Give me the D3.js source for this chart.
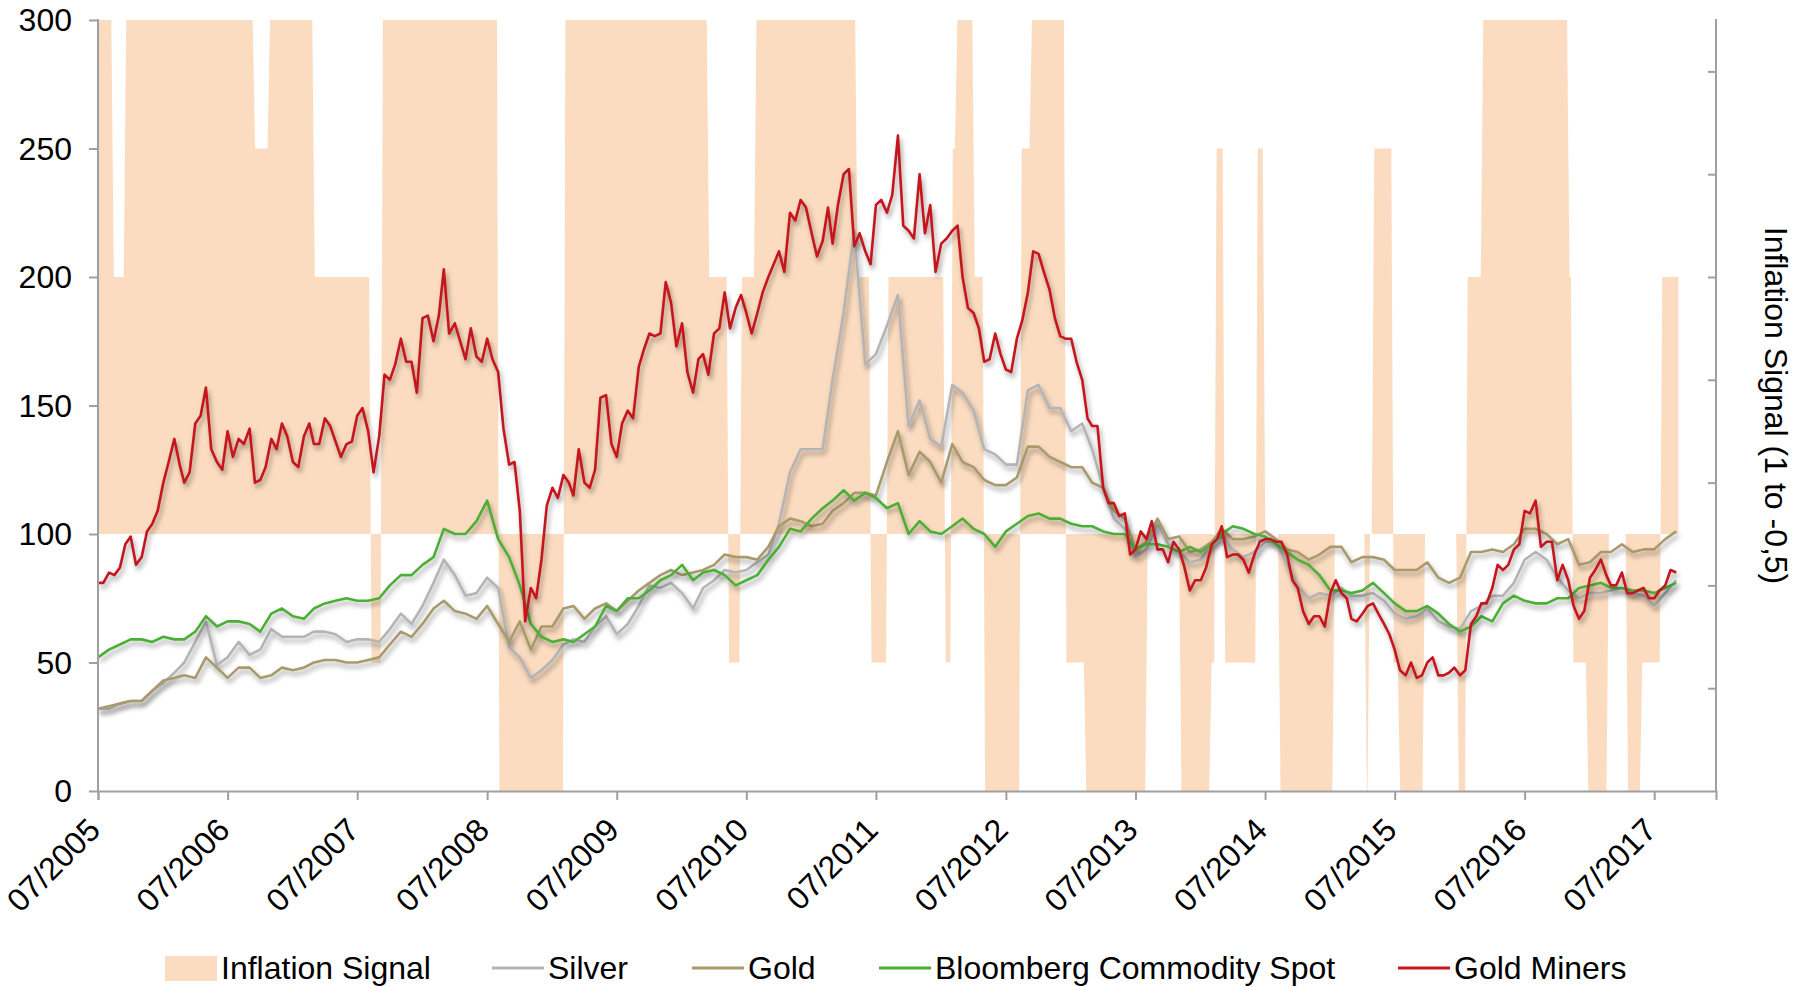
<!DOCTYPE html>
<html>
<head>
<meta charset="utf-8">
<script src="https://cdn.jsdelivr.net/npm/d3@7/dist/d3.min.js"></script>
<style>
  html, body { margin: 0; padding: 0; background: #fff; }
  svg { display: block; }
  text { font-family: "Liberation Sans", Arial, Helvetica, sans-serif; fill: #000; }
</style>
</head>
<body>
<svg id="chart" width="1808" height="987"></svg>
<script>
// ---------------- DATA ----------------
const firstMonth = "2005-07-01";
const lastMonth = "2017-09-01";

// Gold Miners, twice a month (1st and 16th), 07/2005 .. 09/2017
const goldMiners = [
  81, 81, 85, 84, 87, 96, 99, 88, 91, 101, 104, 109, 120, 128, 137, 127, 120, 124, 143, 146, 157, 133, 128, 125,
  140, 130, 137, 135, 141, 120, 121, 126, 137, 133, 143, 138, 128, 126, 138, 143, 135, 135, 145, 142, 136, 130, 135, 136,
  146, 149, 140, 124, 138, 162, 160, 166, 176, 167, 167, 155, 184, 185, 175, 185, 203, 178, 182, 175, 168, 180, 169, 167,
  176, 168, 163, 141, 127, 128, 109, 66, 79, 75, 90, 111, 118, 114, 123, 120, 115, 133, 120, 118, 125, 153, 154, 135,
  130, 143, 148, 145, 165, 172, 178, 177, 178, 198, 190, 173, 182, 163, 155, 168, 170, 162, 178, 180, 194, 180, 188, 193,
  186, 178, 186, 194, 200, 205, 210, 202, 225, 222, 230, 227, 217, 208, 214, 227, 213, 228, 240, 242, 212, 217, 210, 205,
  228, 230, 225, 232, 255, 220, 218, 215, 240, 217, 228, 202, 213, 215, 218, 220, 200, 188, 186, 180, 167, 168, 178, 170,
  164, 163, 176, 183, 194, 210, 209, 202, 195, 184, 177, 176, 176, 167, 160, 145, 142, 142, 118, 112, 112, 107, 108, 92,
  94, 101, 98, 105, 94, 94, 89, 97, 94, 87, 78, 82, 82, 87, 96, 98, 103, 91, 92, 92, 90, 85, 92, 97,
  98, 98, 97, 97, 92, 82, 79, 70, 65, 68, 68, 64, 77, 82, 77, 75, 67, 66, 69, 72, 73, 69, 65, 61,
  55, 47, 45, 50, 44, 45, 50, 52, 45, 45, 46, 48, 45, 47, 65, 68, 73, 73, 79, 88, 86, 88, 94, 96,
  109, 108, 113, 95, 97, 97, 82, 88, 82, 72, 67, 70, 83, 86, 90, 84, 80, 80, 85, 77, 77, 78, 79, 75,
  75, 78, 80, 86, 85
];

// Monthly series, 07/2005 .. 09/2017
const silver = [
  32, 32, 34, 35, 35, 39, 42, 46, 50, 58, 66, 49, 52, 58, 53, 55, 63, 60, 60, 60, 62, 62, 61, 58, 59,
  59, 58, 63, 69, 65, 72, 81, 90, 84, 76, 77, 83, 79, 56, 52, 44, 47, 51, 57, 59, 58, 64, 68, 61,
  65, 72, 80, 79, 81, 77, 71, 79, 82, 86, 85, 86, 89, 92, 104, 124, 133, 133, 133, 160, 186, 218, 166, 170,
  181, 193, 142, 152, 137, 134, 158, 155, 148, 133, 131, 127, 127, 156, 158, 149, 149, 140, 143, 133, 118, 106, 102, 91, 94,
  104, 96, 93, 89, 90, 97, 99, 94, 91, 93, 97, 97, 88, 80, 75, 77, 76, 79, 76, 76, 77, 74, 69, 67,
  68, 71, 66, 64, 63, 70, 72, 76, 76, 81, 90, 93, 90, 83, 78, 75, 77, 77, 78, 79, 77, 76, 72, 77, 82
];

const gold = [
  32, 33, 34, 35, 35, 39, 43, 44, 45, 44, 52, 48, 44, 48, 48, 44, 45, 48, 47, 48, 50, 51, 51, 50, 50,
  51, 52, 57, 62, 60, 65, 71, 74, 70, 69, 67, 72, 65, 58, 66, 55, 64, 64, 71, 72, 67, 71, 73, 70,
  74, 78, 81, 84, 86, 84, 85, 86, 88, 92, 91, 91, 90, 95, 103, 106, 105, 103, 104, 109, 112, 116, 116, 115,
  128, 140, 123, 132, 128, 120, 135, 128, 126, 121, 119, 119, 122, 134, 134, 130, 128, 126, 126, 120, 118, 109, 106, 94, 97,
  106, 98, 99, 93, 94, 97, 102, 98, 98, 99, 101, 98, 94, 93, 90, 92, 95, 95, 89, 91, 91, 90, 86, 86,
  86, 89, 83, 81, 83, 93, 93, 94, 93, 96, 102, 102, 100, 96, 98, 88, 89, 93, 93, 96, 93, 94, 94, 98, 101
];

const bloombergSpot = [
  52, 55, 57, 59, 59, 58, 60, 59, 59, 62, 68, 64, 66, 66, 65, 62, 69, 71, 68, 67, 71, 73, 74, 75, 74,
  74, 75, 80, 84, 84, 88, 91, 102, 100, 100, 105, 113, 98, 91, 80, 65, 60, 58, 59, 58, 61, 64, 72, 70,
  75, 75, 78, 82, 84, 88, 82, 85, 86, 84, 80, 82, 84, 90, 95, 102, 101, 106, 110, 113, 117, 113, 116, 114,
  110, 112, 100, 105, 101, 100, 103, 106, 102, 100, 95, 101, 104, 107, 108, 106, 106, 104, 103, 103, 101, 100, 100, 94, 96,
  96, 95, 93, 95, 93, 96, 100, 103, 102, 100, 99, 96, 93, 90, 88, 84, 78, 78, 77, 78, 81, 77, 73, 70,
  70, 72, 69, 65, 62, 64, 68, 66, 73, 76, 74, 73, 73, 75, 75, 79, 80, 81, 79, 79, 78, 78, 77, 79, 81
];

// Inflation signal: date it changes to a value (1 to -0.5)
const signalDates = ["2005-07-01","2005-08-11","2005-09-15","2006-09-13","2006-10-25","2007-02-28","2007-08-07","2007-09-08",
  "2008-08-01","2009-02-03","2010-03-15","2010-05-10","2010-06-15","2010-07-26","2011-05-07","2011-06-15","2011-08-02",
  "2012-01-10","2012-01-30","2012-02-12","2012-04-01","2012-04-30","2012-08-11","2012-09-09","2012-12-15","2013-02-09",
  "2013-08-01","2013-11-04","2014-01-28","2014-02-11","2014-03-07","2014-06-07","2014-06-28","2014-08-10","2015-01-10",
  "2015-04-10","2015-04-19","2015-05-01","2015-06-25","2015-07-13","2015-09-21","2015-12-25","2016-01-19","2016-03-03",
  "2016-11-01","2016-11-12","2016-12-24","2017-02-20","2017-04-15","2017-05-25","2017-07-20"];
const signalValues = [1, 0.5, 1, 0.75, 1, 0.5, -0.25, 1,
  -0.5, 1, 0.5, -0.25, 0.5, 1, 0.5, -0.25, 0.5,
  -0.25, 0.75, 1, 0.5, -0.5, 0.75, 1, -0.25, -0.5,
  0, -0.5, -0.25, 0.75, -0.25, 0.75, 0, -0.5, 0,
  -0.5, 0, 0.75, -0.25, -0.5, 0, -0.5, 0.5, 1,
  0.5, -0.25, -0.5, 0, -0.5, -0.25, 0.5];
const signalEnd = "2017-09-07";

const leftTicks = [0, 50, 100, 150, 200, 250, 300];
const rightTicks = [-0.3, -0.1, 0.1, 0.3, 0.5, 0.7, 0.9];
const tickYears = [2005, 2006, 2007, 2008, 2009, 2010, 2011, 2012, 2013, 2014, 2015, 2016, 2017];

const seriesNames = ["Silver", "Gold", "Bloomberg Commodity Spot", "Gold Miners"];
const seriesColors = ["#b4b4b4", "#a89a6b", "#4caf36", "#c4161c"];
const areaName = "Inflation Signal";
const areaColor = "#fbdcc0";
const rightTitle = "Inflation Signal (1 to -0,5)";

// ---------------- CHART ----------------
const parse = d3.timeParse("%Y-%m-%d");
const monthDates = d3.timeMonth.range(parse(firstMonth), d3.timeMonth.offset(parse(lastMonth), 1));
const halfMonthDates = [];
monthDates.forEach(d => {
  halfMonthDates.push(d);
  halfMonthDates.push(new Date(d.getFullYear(), d.getMonth(), 16));
});
const seriesValues = [silver, gold, bloombergSpot, goldMiners];
const seriesDates = [monthDates, monthDates, monthDates, halfMonthDates];

const svg = d3.select("#chart");
const L = 98, R = 1716, T = 20, B = 791;

const x = d3.scaleTime().domain([parse("2005-07-01"), parse("2017-12-22")]).range([L, R]);
const y = d3.scaleLinear().domain([0, 300]).range([B, T]);
const yR = d3.scaleLinear().domain([-0.5, 1]).range([B, T]);

// shadow filter
const defs = svg.append("defs");
const f = defs.append("filter").attr("id", "shadow").attr("x", "-5%").attr("y", "-5%").attr("width", "110%").attr("height", "115%");
f.append("feDropShadow").attr("dx", 2).attr("dy", 4).attr("stdDeviation", 2.8)
  .attr("flood-color", "#000").attr("flood-opacity", 0.38);

// Inflation signal area
const sig = signalDates.map((d, i) => ({ d: parse(d), v: signalValues[i] }));
const ramp = 3.5 * 24 * 3600 * 1000;
const pts = [sig[0]];
for (let i = 1; i < sig.length; i++) {
  pts.push({ d: new Date(+sig[i].d - ramp), v: sig[i - 1].v });
  pts.push({ d: new Date(+sig[i].d + ramp), v: sig[i].v });
}
pts.push({ d: parse(signalEnd), v: sig[sig.length - 1].v });

svg.append("path")
  .datum(pts)
  .attr("fill", areaColor)
  .attr("d", d3.area().x(d => x(d.d)).y0(yR(0)).y1(d => yR(d.v)));

// Lines
seriesValues.forEach((vals, k) => {
  const ds = seriesDates[k];
  const line = d3.line().x((d, i) => x(ds[i])).y(d => y(d));
  svg.append("path")
    .datum(vals)
    .attr("fill", "none")
    .attr("stroke", seriesColors[k])
    .attr("stroke-width", 2.6)
    .attr("stroke-linejoin", "round")
    .attr("filter", "url(#shadow)")
    .attr("d", line);
});

// Axes
const axisColor = "#a0a0a0";
const tickDates = tickYears.map(yv => new Date(yv, 6, 1));

const gx = svg.append("g").attr("transform", `translate(0,${B})`)
  .call(d3.axisBottom(x).tickValues(tickDates).tickSize(9).tickFormat(""));
const gy = svg.append("g").attr("transform", `translate(${L},0)`)
  .call(d3.axisLeft(y).tickValues(leftTicks).tickSize(9).tickFormat(""));
const gr = svg.append("g").attr("transform", `translate(${R},0)`)
  .call(d3.axisLeft(yR).tickValues(rightTicks).tickSize(8).tickFormat(""));
[gx, gy, gr].forEach(g => {
  g.select(".domain").attr("stroke", axisColor).attr("stroke-width", 2);
  g.selectAll(".tick line").attr("stroke", axisColor).attr("stroke-width", 2);
});
gr.select(".domain").attr("d", `M0,${T - 1}V${B}`);
gy.select(".domain").attr("d", `M0,${T - 1}V${B}`);

const FS = 32;
// Left labels
svg.append("g").selectAll("text").data(leftTicks).join("text")
  .attr("x", 72).attr("y", d => y(d)).attr("dy", "0.35em")
  .attr("text-anchor", "end").attr("font-size", FS).text(d => d);

// Bottom labels, rotated
const fmt = d3.timeFormat("%m/%Y");
svg.append("g").selectAll("text").data(tickDates).join("text")
  .attr("transform", d => `translate(${x(d) + 4},${B + 41}) rotate(-45)`)
  .attr("text-anchor", "end").attr("font-size", FS).text(d => fmt(d));

// Right title
svg.append("text")
  .attr("transform", `translate(1765,${(T + B) / 2}) rotate(90)`)
  .attr("text-anchor", "middle").attr("font-size", FS).text(rightTitle);

// Legend
const ly = 968;
const leg = svg.append("g");
leg.append("rect").attr("x", 165).attr("y", ly - 12).attr("width", 52).attr("height", 25).attr("fill", areaColor);
leg.append("text").attr("x", 221).attr("y", ly).attr("dy", "0.35em").attr("font-size", FS).text(areaName);
const legX = [492, 692, 879, 1398];
seriesNames.forEach((n, k) => {
  leg.append("line").attr("x1", legX[k]).attr("x2", legX[k] + 52).attr("y1", ly).attr("y2", ly)
    .attr("stroke", seriesColors[k]).attr("stroke-width", 3);
  leg.append("text").attr("x", legX[k] + 56).attr("y", ly).attr("dy", "0.35em").attr("font-size", FS).text(n);
});
</script>
</body>
</html>
